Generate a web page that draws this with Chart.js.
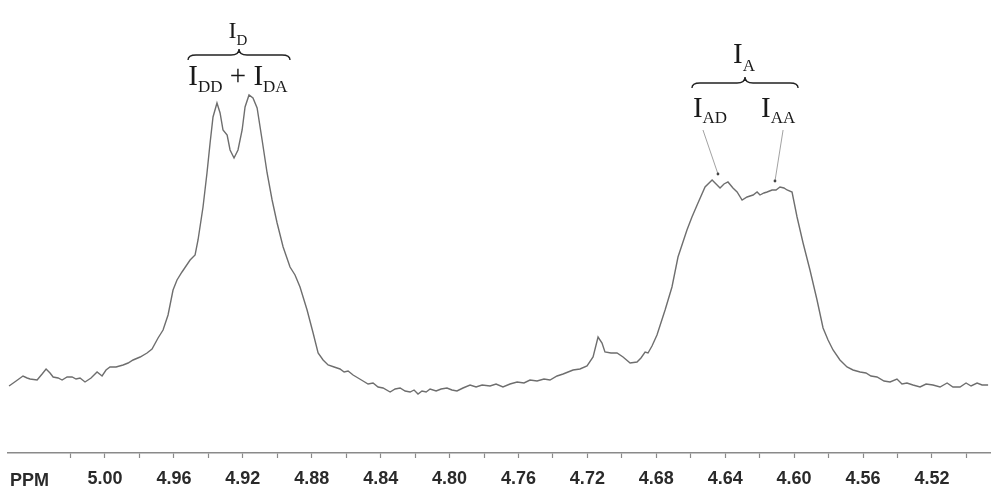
<!DOCTYPE html>
<html>
<head>
<meta charset="utf-8">
<script src="https://cdn.jsdelivr.net/npm/chart.js"></script>
<style>
  html, body { margin: 0; padding: 0; background: #fff; }
  #wrap { width: 1000px; height: 495px; }
</style>
</head>
<body>
<div id="wrap"><canvas id="nmr" width="1000" height="495"></canvas></div>
<script>
// chemical shift (ppm) and signal height (arbitrary units)
const ppm = [
  5.0557, 5.0516, 5.0476, 5.0452, 5.0435, 5.0394, 5.0365, 5.0342, 5.0319, 5.0301,
  5.0272, 5.0249, 5.0220, 5.0191, 5.0168, 5.0145, 5.0116, 5.0081, 5.0046, 5.0017,
  4.9994, 4.9971, 4.9936, 4.9895, 4.9866, 4.9837, 4.9796, 4.9756, 4.9727, 4.9692,
  4.9663, 4.9634, 4.9605, 4.9582, 4.9553, 4.9506, 4.9477, 4.9460, 4.9431, 4.9408,
  4.9390, 4.9373, 4.9350, 4.9332, 4.9315, 4.9291, 4.9274, 4.9251, 4.9228, 4.9204,
  4.9187, 4.9164, 4.9141, 4.9117, 4.9088, 4.9059, 4.9030, 4.9001, 4.8966, 4.8926,
  4.8897, 4.8868, 4.8827, 4.8792, 4.8763, 4.8734, 4.8705, 4.8670, 4.8636, 4.8612,
  4.8589, 4.8560, 4.8531, 4.8502, 4.8473, 4.8444, 4.8415, 4.8386, 4.8345, 4.8316,
  4.8287, 4.8258, 4.8229, 4.8206, 4.8183, 4.8160, 4.8136, 4.8113, 4.8078, 4.8049,
  4.8015, 4.7986, 4.7957, 4.7922, 4.7881, 4.7846, 4.7811, 4.7765, 4.7730, 4.7690,
  4.7649, 4.7608, 4.7568, 4.7533, 4.7492, 4.7452, 4.7417, 4.7376, 4.7341, 4.7312,
  4.7283, 4.7243, 4.7202, 4.7167, 4.7138, 4.7115, 4.7098, 4.7063, 4.7028, 4.6993,
  4.6952, 4.6912, 4.6889, 4.6865, 4.6848, 4.6825, 4.6796, 4.6749, 4.6709, 4.6674,
  4.6622, 4.6593, 4.6558, 4.6517, 4.6476, 4.6453, 4.6430, 4.6407, 4.6384, 4.6355,
  4.6331, 4.6302, 4.6273, 4.6256, 4.6238, 4.6215, 4.6198, 4.6175, 4.6157, 4.6128,
  4.6105, 4.6082, 4.6059, 4.6041, 4.6012, 4.5983, 4.5948, 4.5908, 4.5867, 4.5832,
  4.5803, 4.5774, 4.5734, 4.5693, 4.5658, 4.5617, 4.5583, 4.5554, 4.5519, 4.5478,
  4.5443, 4.5403, 4.5374, 4.5345, 4.5310, 4.5269, 4.5234, 4.5194, 4.5153, 4.5112,
  4.5078, 4.5037, 4.5002, 4.4973, 4.4938, 4.4909, 4.4874
];
const intensity = [
  67, 72, 77, 75, 74, 73, 79, 84, 80, 76,
  75, 73, 76, 76, 74, 75, 71, 75, 81, 77,
  83, 86, 86, 88, 90, 93, 96, 100, 104, 115,
  123, 138, 163, 173, 181, 193, 198, 213, 246, 280,
  310, 336, 350, 340, 323, 318, 303, 295, 303, 323,
  346, 358, 355, 345, 313, 280, 253, 230, 206, 186,
  178, 166, 143, 120, 100, 93, 88, 86, 84, 81,
  82, 78, 75, 72, 69, 70, 66, 65, 61, 64,
  65, 62, 61, 63, 59, 62, 61, 64, 62, 64,
  65, 63, 62, 65, 68, 66, 68, 67, 69, 66,
  69, 71, 70, 73, 72, 74, 73, 77, 79, 81,
  83, 84, 87, 96, 116, 110, 101, 100, 100, 96,
  90, 91, 95, 101, 100, 107, 118, 143, 166, 196,
  223, 236, 250, 266, 273, 269, 265, 269, 271, 265,
  261, 253, 256, 257, 258, 261, 258, 260, 261, 263,
  263, 266, 265, 263, 261, 236, 210, 183, 153, 125,
  113, 103, 93, 86, 83, 81, 80, 77, 76, 72,
  71, 74, 69, 70, 68, 66, 69, 68, 66, 70,
  66, 66, 70, 67, 70, 68, 68
];

// axis
const xMin = 4.4863;
const xMax = 5.0563;
const majorTicks = [5.00, 4.96, 4.92, 4.88, 4.84, 4.80, 4.76, 4.72, 4.68, 4.64, 4.60, 4.56, 4.52];
const minorTicks = [5.02, 4.98, 4.94, 4.90, 4.86, 4.82, 4.78, 4.74, 4.70, 4.66, 4.62, 4.58, 4.54, 4.50];
const axisName = 'PPM';

// braces and labels, placed in data units (ppm, intensity)
const braces = [
  { from: 4.9518, to: 4.8926, tip: 404, arm: 398, end: 393 },
  { from: 4.6593, to: 4.5977, tip: 376, arm: 370, end: 365 }
];
const labels = [
  { x: 4.9228, y: 415, parts: [['I', 24, 0], ['D', 15, 7]] },
  { x: 4.9228, y: 368, parts: [['I', 29, 0], ['DD', 17, 7], [' + ', 29, 0], ['I', 29, 0], ['DA', 17, 7]] },
  { x: 4.6291, y: 390, parts: [['I', 29, 0], ['A', 17, 8]] },
  { x: 4.6488, y: 336, parts: [['I', 29, 0], ['AD', 17, 6]] },
  { x: 4.6093, y: 336, parts: [['I', 29, 0], ['AA', 17, 6]] }
];
const leaders = [
  { x1: 4.6529, y1: 323, x2: 4.6442, y2: 279 },
  { x1: 4.6064, y1: 323, x2: 4.6111, y2: 272 }
];

const points = ppm.map((p, i) => ({ x: p, y: intensity[i] }));

const annotate = {
  id: 'annotate',
  afterDraw(chart) {
    const ctx = chart.ctx;
    const xs = chart.scales.x;
    const ys = chart.scales.y;
    ctx.save();

    // braces
    ctx.strokeStyle = '#222';
    ctx.lineWidth = 1.4;
    braces.forEach(b => {
      const x0 = xs.getPixelForValue(b.from);
      const x1 = xs.getPixelForValue(b.to);
      const xc = (x0 + x1) / 2;
      const yt = ys.getPixelForValue(b.tip);
      const ya = ys.getPixelForValue(b.arm);
      const ye = ys.getPixelForValue(b.end);
      const r = 8;
      ctx.beginPath();
      ctx.moveTo(x0, ye);
      ctx.quadraticCurveTo(x0, ya, x0 + r, ya);
      ctx.lineTo(xc - r, ya);
      ctx.quadraticCurveTo(xc, ya, xc, yt);
      ctx.quadraticCurveTo(xc, ya, xc + r, ya);
      ctx.lineTo(x1 - r, ya);
      ctx.quadraticCurveTo(x1, ya, x1, ye);
      ctx.stroke();
    });

    // labels with subscripts
    ctx.fillStyle = '#1a1a1a';
    ctx.textBaseline = 'alphabetic';
    ctx.textAlign = 'left';
    labels.forEach(l => {
      let total = 0;
      const widths = l.parts.map(([t, size]) => {
        ctx.font = size + 'px "Liberation Serif", "Times New Roman", serif';
        const w = ctx.measureText(t).width;
        total += w;
        return w;
      });
      let x = xs.getPixelForValue(l.x) - total / 2;
      const y = ys.getPixelForValue(l.y);
      l.parts.forEach(([t, size, dy], i) => {
        ctx.font = size + 'px "Liberation Serif", "Times New Roman", serif';
        ctx.fillText(t, x, y + dy);
        x += widths[i];
      });
    });

    // leader lines to the two A maxima
    ctx.strokeStyle = '#8a8a8a';
    ctx.lineWidth = 0.8;
    leaders.forEach(d => {
      const ax = xs.getPixelForValue(d.x1), ay = ys.getPixelForValue(d.y1);
      const bx = xs.getPixelForValue(d.x2), by = ys.getPixelForValue(d.y2);
      ctx.beginPath();
      ctx.moveTo(ax, ay);
      ctx.lineTo(bx, by);
      ctx.stroke();
      ctx.fillStyle = '#444';
      ctx.beginPath();
      ctx.arc(bx, by, 1.4, 0, Math.PI * 2);
      ctx.fill();
    });

    // axis name
    ctx.fillStyle = '#2a2a2a';
    ctx.font = 'bold 18px "Liberation Sans", Arial, sans-serif';
    ctx.textBaseline = 'middle';
    ctx.fillText(axisName, 10, chart.chartArea.bottom + 28);
    ctx.restore();
  }
};

new Chart(document.getElementById('nmr'), {
  type: 'line',
  data: {
    datasets: [{
      data: points,
      borderColor: '#6e6e6e',
      borderWidth: 1.4,
      pointRadius: 0,
      tension: 0,
      fill: false
    }]
  },
  options: {
    responsive: false,
    animation: false,
    layout: { padding: { left: 8, right: 10, top: 0, bottom: 0 } },
    plugins: { legend: { display: false }, tooltip: { enabled: false } },
    scales: {
      x: {
        type: 'linear',
        reverse: true,
        min: xMin,
        max: xMax,
        afterBuildTicks: (scale) => {
          scale.ticks = [...majorTicks, ...minorTicks].sort((a, b) => a - b).map(v => ({ value: v }));
        },
        afterFit: (scale) => { scale.height = 42; },
        border: { display: true, color: '#8a8a8a', width: 1.5 },
        grid: { drawOnChartArea: false, drawTicks: true, tickLength: 5, tickColor: '#8a8a8a', tickWidth: 1.2 },
        ticks: {
          autoSkip: false,
          maxRotation: 0,
          padding: 10,
          color: '#2a2a2a',
          font: { family: '"Liberation Sans", Arial, sans-serif', weight: 'bold', size: 18 },
          callback: (value) => majorTicks.some(v => Math.abs(v - value) < 1e-6) ? value.toFixed(2) : ''
        }
      },
      y: {
        display: false,
        min: 0,
        max: 453
      }
    }
  },
  plugins: [annotate]
});
</script>
</body>
</html>
